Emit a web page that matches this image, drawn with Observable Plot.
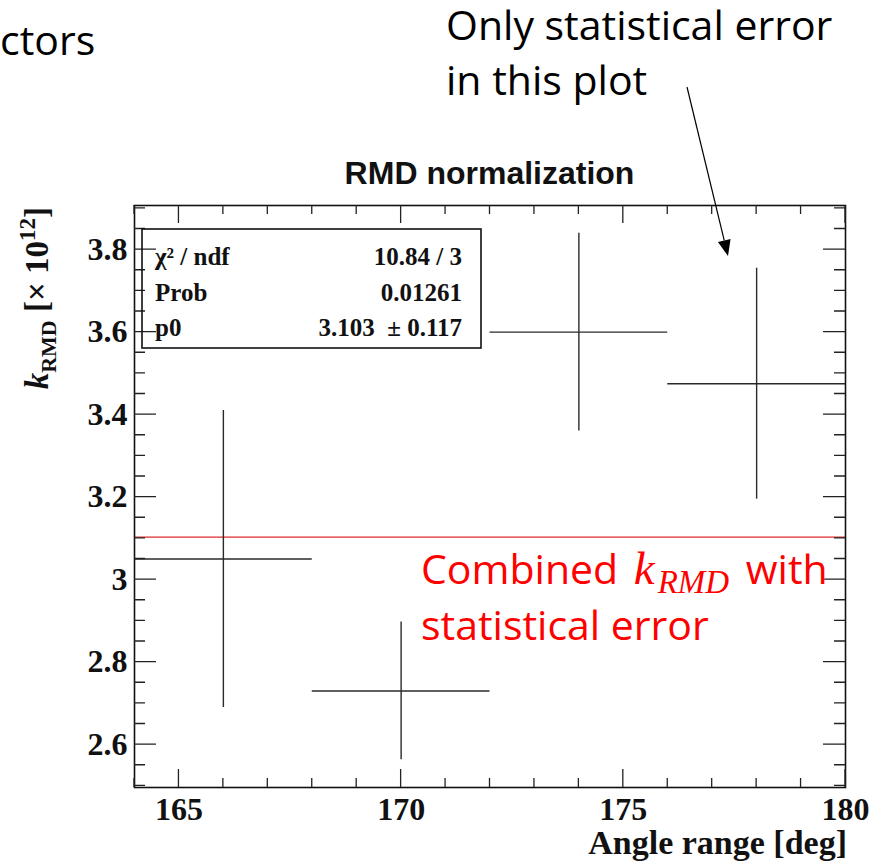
<!DOCTYPE html>
<html>
<head>
<meta charset="utf-8">
<script src="https://cdn.jsdelivr.net/npm/d3@7"></script>
<script src="https://cdn.jsdelivr.net/npm/@observablehq/plot@0.6"></script>
<style>
  html, body { margin: 0; padding: 0; background: #fff; }
</style>
</head>
<body>
<div id="chart"></div>
<script>
// Measured k_RMD per angle bin (units of 1e12), statistical errors only
const angleCenters = [166, 170, 174, 178];
const angleHalfWidths = [2, 2, 2, 2];
const kValues = [3.05, 2.73, 3.60, 3.475];
const kErrors = [0.36, 0.167, 0.24, 0.28];

// Constant (pol0) fit result
const fitP0 = 3.103;
const statLabels = ["χ² / ndf", "Prob", "p0"];
const statValues = ["10.84 / 3", "0.01261", "3.103  ± 0.117"];

// Axis ticks
const xTickLabels = [165, 170, 175, 180];
const yTickLabels = [2.6, 2.8, 3, 3.2, 3.4, 3.6, 3.8];
const xDomain = [164, 180];
const yDomain = [2.496, 3.907];

const points = angleCenters.map((a, i) => ({
  angle: a, half: angleHalfWidths[i], k: kValues[i], err: kErrors[i]
}));

const W = 871, H = 861;
const mL = 134, mR = 26, mT = 205, mB = 74;
const frameW = W - mL - mR, frameH = H - mT - mB;

const xMinor = d3.range(xDomain[0], xDomain[1] + 0.5, 1).filter(v => !xTickLabels.includes(v));
const yMinor = d3.range(2.5, 3.91, 0.05).map(v => +v.toFixed(2)).filter(v => !yTickLabels.includes(v));

const serif = "'Liberation Serif', 'Times New Roman', serif";
const sans = "'Liberation Sans', Arial, sans-serif";

const plot = Plot.plot({
  width: W, height: H,
  marginLeft: mL, marginRight: mR, marginTop: mT, marginBottom: mB,
  x: { domain: xDomain },
  y: { domain: yDomain },
  marks: [
    // combined fit value
    Plot.ruleY([fitP0], { stroke: "#e02a2a", strokeWidth: 1.3 }),
    // per-bin horizontal (bin width) and vertical (stat. error) bars
    Plot.ruleY(points, { y: "k", x1: d => d.angle - d.half, x2: d => d.angle + d.half, stroke: "#2a2a2a", strokeWidth: 1.4 }),
    Plot.ruleX(points, { x: "angle", y1: d => d.k - d.err, y2: d => d.k + d.err, stroke: "#2a2a2a", strokeWidth: 1.4 }),
    Plot.frame({ stroke: "#111", strokeWidth: 1.6 }),
    Plot.axisX(xTickLabels, {
      tickSize: 0, tickPadding: 10, label: null, tickFormat: d => String(d),
      fontFamily: serif, fontWeight: "bold", fontSize: 32, fill: "#111"
    }),
    Plot.axisY(yTickLabels, {
      tickSize: 0, tickPadding: 7, label: null, tickFormat: d => String(d),
      fontFamily: serif, fontWeight: "bold", fontSize: 32, fill: "#111"
    })
  ]
});

document.getElementById("chart").appendChild(plot);
const svg = d3.select(plot);
const sx = plot.scale("x"), sy = plot.scale("y");
const frameLeft = mL, frameRight = W - mR, frameTop = mT, frameBottom = H - mB;

// Inward ticks on all four sides, placed with the chart's own scales
const tickPath = d3.path();
const tickX = (vals, len) => vals.forEach(v => {
  const px = sx.apply(v);
  tickPath.moveTo(px, frameBottom); tickPath.lineTo(px, frameBottom - len);
  tickPath.moveTo(px, frameTop); tickPath.lineTo(px, frameTop + len);
});
const tickY = (vals, len) => vals.forEach(v => {
  const py = sy.apply(v);
  tickPath.moveTo(frameLeft, py); tickPath.lineTo(frameLeft + len, py);
  tickPath.moveTo(frameRight, py); tickPath.lineTo(frameRight - len, py);
});
tickX(xTickLabels, 18);
tickX(xMinor, 9);
tickY(yTickLabels, 22);
tickY(yMinor, 11);
svg.append("path")
  .attr("d", tickPath.toString())
  .attr("fill", "none").attr("stroke", "#222").attr("stroke-width", 1.3);

// Title
svg.append("text")
  .attr("x", mL + frameW / 2).attr("y", 184)
  .attr("text-anchor", "middle")
  .attr("font-family", sans).attr("font-weight", "bold").attr("font-size", 32)
  .attr("fill", "#111")
  .text("RMD normalization");

// X axis title
svg.append("text")
  .attr("x", mL + frameW + 2).attr("y", 854)
  .attr("text-anchor", "end")
  .attr("font-family", serif).attr("font-weight", "bold").attr("font-size", 34)
  .attr("fill", "#111")
  .text("Angle range [deg]");

// Y axis title: k_RMD [× 10^12]
const yt = svg.append("text")
  .attr("transform", `translate(48,${mT + 2}) rotate(-90)`)
  .attr("text-anchor", "end")
  .attr("font-family", serif).attr("font-weight", "bold").attr("font-size", 33)
  .attr("fill", "#111");
yt.append("tspan").attr("font-style", "italic").text("k");
yt.append("tspan").attr("font-size", 22).attr("dy", 8).text("RMD");
yt.append("tspan").attr("dy", -8).text(" [× 10");
yt.append("tspan").attr("font-size", 23).attr("dy", -13).text("12");
yt.append("tspan").attr("dy", 13).text("]");

// Fit statistics box
const box = { x: 142, y: 229, w: 339, h: 119 };
svg.append("rect")
  .attr("x", box.x).attr("y", box.y).attr("width", box.w).attr("height", box.h)
  .attr("fill", "none").attr("stroke", "#111").attr("stroke-width", 1.6);
statLabels.forEach((lab, i) => {
  const yb = 265 + i * 35.5;
  svg.append("text")
    .attr("x", box.x + 13).attr("y", yb).attr("text-anchor", "start")
    .attr("font-family", serif).attr("font-weight", "bold").attr("font-size", 25)
    .attr("fill", "#111").text(lab);
  svg.append("text")
    .attr("x", box.x + box.w - 19).attr("y", yb)
    .attr("text-anchor", "end").style("white-space", "pre")
    .attr("font-family", serif).attr("font-weight", "bold").attr("font-size", 25)
    .attr("fill", "#111").text(statValues[i]);
});

// Slide annotations
const note = "'Open Sans', 'Noto Sans', sans-serif";
const addNote = (x, y, s, fill = "#000") => svg.append("text")
  .attr("x", x).attr("y", y).attr("text-anchor", "start")
  .attr("font-family", note).attr("font-size", 41).attr("fill", fill).text(s);
addNote(0, 55, "ctors");
addNote(446, 40, "Only statistical error");
addNote(446, 95, "in this plot");

const red = svg.append("text").attr("x", 421).attr("y", 584).attr("text-anchor", "start")
  .attr("font-family", note).attr("font-size", 41).attr("fill", "#ff0000");
red.append("tspan").text("Combined ");
red.append("tspan").attr("font-family", serif).attr("font-style", "italic").attr("font-size", 47).attr("dx", 5).text("k");
red.append("tspan").attr("font-family", serif).attr("font-style", "italic").attr("font-size", 33).attr("dx", 3).attr("dy", 9).text("RMD");
red.append("tspan").attr("dy", -9).attr("dx", 6).text(" with");
addNote(421, 640, "statistical error", "#ff0000");

// Arrow pointing at the error bars
const a0 = [687, 87], a1 = [728, 256];
const ang = Math.atan2(a1[1] - a0[1], a1[0] - a0[0]);
const hl = 16, hw = 6.5;
const base = [a1[0] - hl * Math.cos(ang), a1[1] - hl * Math.sin(ang)];
svg.append("line")
  .attr("x1", a0[0]).attr("y1", a0[1]).attr("x2", base[0]).attr("y2", base[1])
  .attr("stroke", "#000").attr("stroke-width", 1.2);
svg.append("path")
  .attr("d", `M${a1[0]},${a1[1]}L${base[0] - hw * Math.sin(ang)},${base[1] + hw * Math.cos(ang)}L${base[0] + hw * Math.sin(ang)},${base[1] - hw * Math.cos(ang)}Z`)
  .attr("fill", "#000");
</script>
</body>
</html>
